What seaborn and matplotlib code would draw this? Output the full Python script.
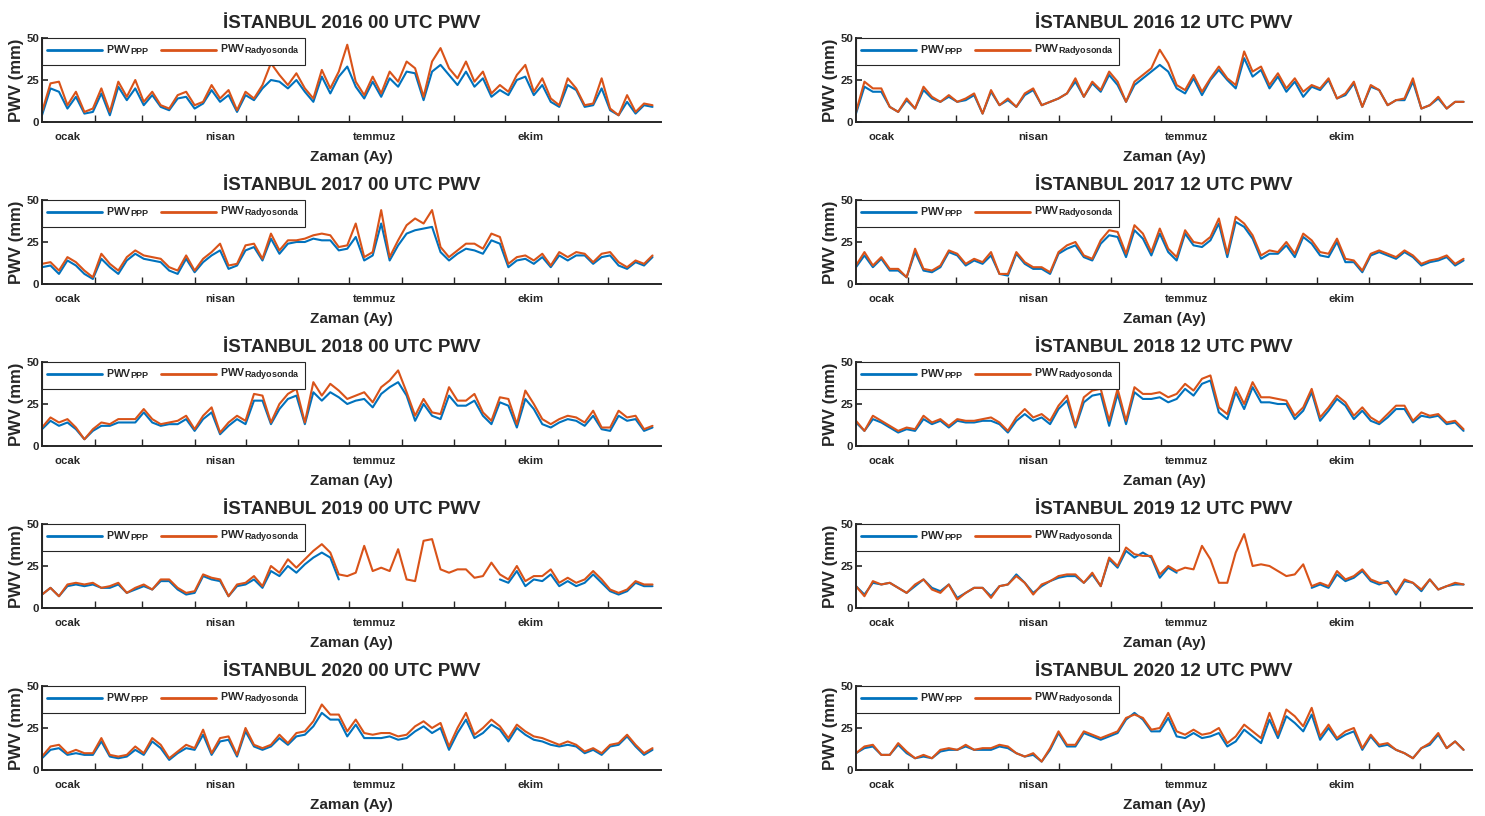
import matplotlib
matplotlib.use("Agg")
import matplotlib.pyplot as plt
from matplotlib.lines import Line2D
import seaborn as sns
import numpy as np
import pandas as pd

# 5 günlük örnekleme (yılın günü)
days = np.arange(0, 365, 5)

month_starts = [31, 59, 90, 120, 151, 181, 212, 243, 273, 304, 334]
label_days = [15, 105, 196, 288]
month_names = ["ocak", "nisan", "temmuz", "ekim"]

nan = np.nan

r_2016_00 = [6, 23, 24, 10, 18, 6, 8, 20, 6, 24, 15, 25, 12, 18, 10, 8, 16, 18, 10, 12, 22, 14, 19, 7,
             18, 14, 22, 35, 28, 22, 29, 20, 14, 31, 20, 30, 46, 24, 16, 27, 17, 30, 24, 36, 32, 15, 36, 44,
             32, 26, 36, 24, 30, 17, 22, 18, 28, 34, 18, 26, 14, 10, 26, 20, 10, 11, 26, 8, 4, 16, 6, 11, 10]
p_2016_00 = [4, 20, 18, 8, 15, 5, 6, 17, 4, 21, 13, 20, 10, 16, 9, 7, 14, 15, 8, 11, 19, 12, 16, 6,
             16, 13, 20, 25, 24, 20, 25, 18, 12, 27, 17, 27, 33, 21, 14, 24, 15, 26, 21, 30, 29, 13, 30, 34,
             28, 22, 30, 21, 26, 15, 19, 16, 25, 27, 16, 22, 12, 9, 22, 19, 9, 10, 20, 7, 4, 12, 5, 10, 9]

r_2016_12 = [6, 24, 20, 20, 9, 6, 14, 8, 21, 15, 12, 16, 12, 14, 17, 5, 19, 10, 14, 9, 17, 20, 10, 12,
             14, 17, 26, 15, 24, 19, 30, 24, 12, 24, 28, 32, 43, 35, 22, 19, 28, 18, 26, 33, 26, 22, 42, 30,
             33, 22, 29, 20, 26, 18, 22, 20, 26, 14, 17, 24, 9, 22, 19, 10, 13, 14, 26, 8, 10, 15, 8, 12, 12]
p_2016_12 = [5, 21, 18, 18, 9, 6, 13, 8, 19, 14, 12, 15, 12, 13, 16, 5, 18, 10, 13, 9, 16, 19, 10, 12,
             14, 17, 24, 15, 23, 18, 28, 22, 12, 22, 26, 30, 34, 30, 20, 17, 26, 16, 25, 31, 25, 20, 38, 27,
             31, 20, 27, 18, 24, 15, 21, 19, 25, 14, 16, 23, 9, 21, 19, 10, 13, 13, 24, 8, 10, 14, 8, 12, 12]

r_2017_00 = [12, 13, 8, 16, 13, 8, 4, 18, 12, 8, 16, 20, 17, 16, 15, 10, 8, 17, 8, 15, 19, 24, 11, 12,
             23, 24, 15, 30, 20, 26, 26, 27, 29, 30, 29, 22, 23, 36, 16, 19, 44, 16, 26, 35, 39, 36, 44, 22,
             16, 20, 24, 24, 21, 30, 28, 12, 16, 17, 14, 18, 11, 19, 16, 19, 18, 13, 18, 19, 13, 10, 14, 12, 17]
p_2017_00 = [10, 11, 6, 14, 11, 6, 3, 15, 10, 6, 14, 18, 15, 14, 13, 8, 6, 15, 7, 13, 17, 20, 9, 11,
             20, 22, 14, 27, 18, 24, 25, 25, 27, 26, 26, 20, 21, 28, 14, 17, 36, 14, 23, 30, 32, 33, 34, 19,
             14, 18, 21, 20, 18, 26, 24, 10, 14, 15, 12, 16, 10, 17, 14, 17, 17, 12, 16, 17, 11, 9, 13, 11, 16]

r_2017_12 = [11, 19, 11, 16, 9, 9, 4, 21, 9, 8, 11, 20, 18, 12, 15, 13, 19, 6, 6, 19, 13, 10, 10, 7,
             19, 23, 25, 17, 15, 26, 32, 31, 18, 35, 30, 19, 33, 21, 16, 32, 25, 24, 28, 39, 18, 40, 36, 29,
             17, 20, 19, 25, 18, 30, 26, 19, 18, 27, 15, 14, 8, 18, 20, 18, 16, 20, 17, 12, 14, 15, 17, 12, 15]
p_2017_12 = [10, 17, 10, 15, 8, 8, 4, 19, 8, 7, 10, 19, 17, 11, 14, 12, 17, 6, 5, 18, 12, 9, 9, 6,
             18, 21, 23, 16, 14, 24, 29, 28, 16, 32, 27, 17, 30, 19, 14, 30, 23, 22, 26, 36, 16, 37, 34, 27,
             15, 18, 18, 23, 16, 28, 24, 17, 16, 25, 13, 13, 7, 17, 19, 17, 15, 19, 16, 11, 13, 14, 16, 11, 14]

r_2018_00 = [11, 17, 14, 16, 11, 4, 10, 14, 13, 16, 16, 16, 22, 16, 13, 14, 15, 18, 10, 18, 23, 8, 14, 18,
             15, 31, 30, 14, 25, 31, 34, 14, 38, 30, 37, 33, 28, 30, 32, 26, 35, 39, 45, 32, 18, 28, 20, 19,
             35, 27, 27, 31, 20, 15, 29, 28, 13, 33, 25, 16, 13, 16, 18, 17, 14, 21, 11, 11, 21, 17, 18, 10, 12]
p_2018_00 = [10, 15, 12, 14, 10, 4, 9, 12, 12, 14, 14, 14, 20, 14, 12, 13, 13, 16, 9, 16, 20, 7, 12, 16,
             13, 27, 27, 13, 22, 28, 30, 13, 32, 27, 32, 29, 25, 27, 28, 23, 31, 35, 38, 30, 15, 25, 18, 16,
             30, 24, 24, 27, 18, 13, 26, 24, 11, 28, 22, 13, 11, 14, 16, 15, 12, 18, 10, 9, 18, 15, 16, 9, 11]

r_2018_12 = [15, 9, 18, 15, 12, 9, 11, 10, 18, 14, 16, 12, 16, 15, 15, 16, 17, 14, 9, 17, 22, 17, 19, 15,
             24, 30, 12, 29, 33, 34, 15, 34, 15, 35, 31, 31, 32, 29, 31, 37, 33, 40, 42, 23, 19, 35, 25, 38,
             29, 29, 28, 27, 18, 23, 34, 17, 23, 30, 26, 18, 23, 17, 14, 19, 24, 24, 15, 20, 18, 19, 14, 15, 10]
p_2018_12 = [14, 9, 16, 14, 11, 8, 10, 9, 16, 13, 15, 11, 15, 14, 14, 15, 15, 13, 8, 15, 19, 15, 17, 13,
             22, 27, 11, 26, 30, 31, 12, 31, 13, 32, 28, 28, 29, 26, 28, 34, 30, 37, 39, 20, 16, 32, 22, 35,
             26, 26, 25, 25, 16, 21, 32, 15, 21, 28, 24, 16, 21, 15, 13, 17, 22, 22, 14, 18, 17, 18, 13, 14, 9]

r_2019_00 = [8, 12, 7, 14, 15, 14, 15, 12, 13, 15, 9, 12, 14, 11, 17, 17, 12, 9, 10, 20, 18, 17, 7, 14,
             15, 19, 13, 25, 21, 29, 24, 29, 34, 38, 33, 20, 19, 21, 37, 22, 24, 22, 35, 17, 16, 40, 41, 23,
             21, 23, 23, 18, 19, 27, 20, 17, 25, 16, 19, 19, 23, 15, 18, 15, 17, 22, 17, 11, 9, 11, 16, 14, 14]
p_2019_00 = [8, 12, 7, 13, 14, 13, 14, 12, 12, 14, 9, 11, 13, 11, 16, 16, 11, 8, 9, 19, 17, 16, 7, 13,
             14, 17, 12, 22, 19, 25, 21, 26, 30, 33, 30, 17, nan, nan, nan, nan, nan, nan, nan, nan, nan, nan, nan, nan,
             nan, nan, nan, nan, nan, nan, 17, 15, 22, 13, 17, 16, 20, 13, 16, 13, 15, 20, 15, 10, 8, 10, 15, 13, 13]

r_2019_12 = [13, 7, 16, 14, 15, 12, 9, 14, 17, 11, 9, 14, 5, 9, 12, 12, 6, 13, 14, 19, 15, 8, 14, 16,
             19, 20, 20, 15, 21, 13, 30, 25, 36, 32, 31, 31, 20, 25, 22, 24, 23, 37, 29, 15, 15, 33, 44, 25,
             26, 25, 22, 19, 20, 26, 13, 15, 13, 22, 17, 19, 23, 17, 15, 15, 9, 17, 15, 11, 17, 11, 13, 15, 14]
p_2019_12 = [13, 8, 15, 14, 15, 12, 9, 13, 17, 12, 10, 14, 6, 9, 12, 12, 7, 13, 14, 20, 15, 9, 13, 16,
             18, 19, 19, 15, 20, 13, 29, 24, 34, 30, 33, 30, 18, 24, 21, nan, nan, nan, nan, nan, nan, nan, nan, nan,
             nan, nan, nan, nan, nan, nan, 12, 14, 12, 20, 16, 18, 22, 16, 14, 16, 8, 16, 15, 10, 17, 11, 13, 14, 14]

r_2020_00 = [8, 14, 15, 10, 12, 10, 10, 19, 9, 8, 9, 14, 10, 19, 15, 7, 11, 15, 13, 24, 10, 19, 20, 9,
             25, 15, 13, 15, 21, 16, 22, 23, 29, 39, 33, 33, 23, 30, 22, 21, 22, 22, 20, 21, 26, 29, 25, 28,
             14, 25, 34, 21, 25, 30, 26, 19, 27, 23, 20, 19, 17, 15, 17, 15, 11, 13, 10, 15, 16, 21, 15, 10, 13]
p_2020_00 = [7, 12, 13, 9, 10, 9, 9, 17, 8, 7, 8, 12, 9, 17, 13, 6, 10, 13, 12, 21, 9, 17, 18, 8,
             23, 14, 12, 14, 19, 15, 20, 21, 26, 34, 30, 30, 20, 27, 19, 19, 19, 20, 18, 19, 23, 26, 22, 25,
             12, 22, 30, 19, 22, 27, 24, 17, 25, 21, 18, 17, 15, 14, 15, 14, 10, 12, 9, 14, 15, 20, 14, 9, 12]

r_2020_12 = [10, 14, 15, 9, 9, 16, 11, 7, 9, 7, 12, 13, 12, 15, 12, 13, 13, 15, 14, 10, 8, 10, 5, 13,
             23, 15, 15, 23, 21, 19, 21, 23, 31, 33, 31, 24, 25, 34, 23, 21, 24, 21, 22, 25, 16, 20, 27, 23,
             19, 34, 21, 36, 32, 26, 37, 20, 27, 19, 23, 25, 13, 21, 15, 16, 12, 10, 7, 13, 16, 22, 13, 17, 12]
p_2020_12 = [10, 13, 14, 9, 9, 15, 10, 7, 8, 7, 11, 12, 12, 14, 12, 12, 12, 14, 13, 10, 8, 9, 5, 12,
             22, 14, 14, 22, 20, 18, 20, 22, 30, 34, 30, 23, 23, 31, 20, 19, 22, 19, 20, 22, 14, 17, 24, 20,
             16, 30, 19, 32, 28, 23, 33, 18, 25, 18, 21, 23, 12, 20, 14, 15, 12, 10, 7, 13, 15, 21, 13, 17, 12]

panels = [
    ("2016", "00", r_2016_00, p_2016_00), ("2016", "12", r_2016_12, p_2016_12),
    ("2017", "00", r_2017_00, p_2017_00), ("2017", "12", r_2017_12, p_2017_12),
    ("2018", "00", r_2018_00, p_2018_00), ("2018", "12", r_2018_12, p_2018_12),
    ("2019", "00", r_2019_00, p_2019_00), ("2019", "12", r_2019_12, p_2019_12),
    ("2020", "00", r_2020_00, p_2020_00), ("2020", "12", r_2020_12, p_2020_12),
]

BLUE = "#0072BD"
ORANGE = "#D95319"
DARK = "#262626"

# legend alt indisleri biraz daha büyük olsun
try:
    import matplotlib._mathtext as _mt
    _mt.SHRINK_FACTOR = 0.85
except Exception:
    pass

sns.set_style("ticks")
plt.rcParams["font.family"] = ["Liberation Sans", "DejaVu Sans"]
plt.rcParams["font.weight"] = "bold"
plt.rcParams["mathtext.fontset"] = "custom"
plt.rcParams["mathtext.rm"] = "Liberation Sans:bold"
plt.rcParams["mathtext.bf"] = "Liberation Sans:bold"
plt.rcParams["mathtext.it"] = "Liberation Sans:bold"

W, H = 1485, 816
fig = plt.figure(figsize=(W / 100, H / 100), dpi=100)

for k, (year, hour, r_vals, p_vals) in enumerate(panels):
    row, col = k // 2, k % 2
    left = 42 if col == 0 else 856
    width = 619 if col == 0 else 616
    ax = fig.add_axes([left / W, 1 - (122 + 162 * row) / H, width / W, 84 / H])

    p = np.array(p_vals, dtype=float)
    seg = np.cumsum(np.isnan(p))
    df_p = pd.DataFrame({"gun": days, "pwv": p, "parca": seg}).dropna()
    df_r = pd.DataFrame({"gun": days, "pwv": np.array(r_vals, dtype=float)})

    sns.lineplot(data=df_p, x="gun", y="pwv", units="parca", estimator=None,
                 color=BLUE, lw=1.5, ax=ax, legend=False)
    sns.lineplot(data=df_r, x="gun", y="pwv", estimator=None,
                 color=ORANGE, lw=1.5, ax=ax, legend=False)

    ax.set_xlim(0, 365)
    ax.set_ylim(0, 50)
    ax.set_yticks([0, 25, 50])
    ax.set_xticks(label_days)
    ax.set_xticklabels(month_names)
    ax.set_xticks(month_starts, minor=True)
    ax.tick_params(axis="x", which="major", length=0, pad=7, labelsize=8.2, colors=DARK)
    ax.tick_params(axis="x", which="minor", direction="in", length=5, width=1, color=DARK)
    ax.tick_params(axis="y", direction="in", length=4, width=1.2, pad=2, labelsize=8.2, colors=DARK)
    sns.despine(ax=ax)
    for side in ["left", "bottom"]:
        ax.spines[side].set_linewidth(1.4)
        ax.spines[side].set_color(DARK)

    ax.set_title(f"İSTANBUL {year} {hour} UTC PWV", fontsize=13.5, fontweight="bold", pad=7)
    ax.set_xlabel("Zaman (Ay)", fontsize=11, fontweight="bold", labelpad=6, color=DARK)
    ax.set_ylabel("PWV (mm)", fontsize=12, fontweight="bold", labelpad=2, color=DARK)

    handles = [Line2D([], [], color=BLUE, lw=2),
               Line2D([], [], color=ORANGE, lw=2)]
    leg = ax.legend(handles, [r"PWV$_{\mathrm{PPP}}$", r"PWV$_{\mathrm{Radyosonda}}$"],
                    loc="upper left", bbox_to_anchor=(0, 1), ncol=2, fontsize=7.6,
                    handlelength=5.2, handletextpad=0.4, columnspacing=1.0,
                    borderpad=0.5, borderaxespad=0, fancybox=False, framealpha=1)
    leg.get_frame().set_edgecolor(DARK)
    leg.get_frame().set_linewidth(0.8)

fig.savefig("out.png", dpi=100)
